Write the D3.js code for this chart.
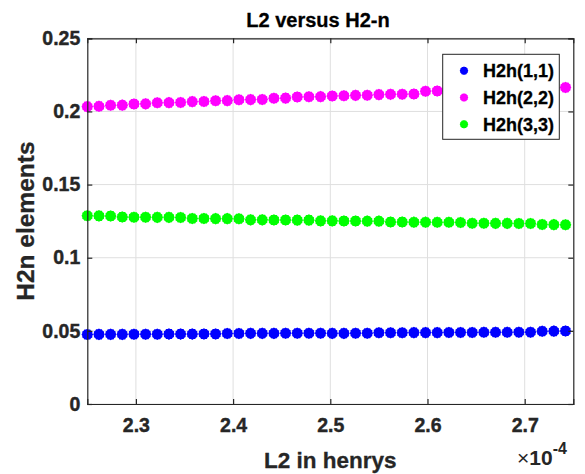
<!DOCTYPE html>
<html>
<head>
<meta charset="utf-8">
<script src="https://cdn.jsdelivr.net/npm/d3@7"></script>
<style>
  body { margin: 0; background: #fff; }
  svg { display: block; font-family: "Liberation Sans", Arial, Helvetica, sans-serif; }
</style>
</head>
<body>
<div class="plotDiv"></div>
<script>
'use strict';

// L2 values (x 1e-4 henrys)
var l2Values = [2.250, 2.262, 2.274, 2.286, 2.298, 2.310, 2.322, 2.334, 2.346, 2.358,
  2.370, 2.382, 2.394, 2.406, 2.418, 2.430, 2.442, 2.454, 2.466, 2.478,
  2.490, 2.502, 2.514, 2.526, 2.538, 2.550, 2.562, 2.574, 2.586, 2.598,
  2.610, 2.622, 2.634, 2.646, 2.658, 2.670, 2.682, 2.694, 2.706, 2.718,
  2.730, 2.742];

var h11 = [0.0475, 0.0476, 0.0476, 0.0476, 0.0477, 0.0477, 0.0477, 0.0478, 0.0478, 0.0478,
  0.0479, 0.0479, 0.0482, 0.0482, 0.0483, 0.0483, 0.0483, 0.0484, 0.0484, 0.0484,
  0.0484, 0.0483, 0.0483, 0.0484, 0.0484, 0.0487, 0.0487, 0.0487, 0.0488, 0.0488,
  0.0488, 0.0489, 0.0489, 0.0489, 0.0490, 0.0490, 0.0490, 0.0491, 0.0491, 0.0497,
  0.0498, 0.0499];

var h22 = [0.2033, 0.2035, 0.2042, 0.2043, 0.2051, 0.2052, 0.2059, 0.2060, 0.2061, 0.2067,
  0.2068, 0.2073, 0.2074, 0.2080, 0.2081, 0.2082, 0.2090, 0.2091, 0.2099, 0.2100,
  0.2101, 0.2106, 0.2107, 0.2110, 0.2111, 0.2115, 0.2117, 0.2118, 0.2119, 0.2138,
  0.2140, 0.2142, 0.2144, 0.2146, 0.2148, 0.2150, 0.2152, 0.2155, 0.2157, 0.2159,
  0.2161, 0.2164];

var h33 = [0.1287, 0.1286, 0.1285, 0.1278, 0.1277, 0.1277, 0.1276, 0.1276, 0.1275, 0.1268,
  0.1268, 0.1267, 0.1267, 0.1266, 0.1259, 0.1259, 0.1258, 0.1258, 0.1257, 0.1257,
  0.1252, 0.1252, 0.1251, 0.1251, 0.1250, 0.1250, 0.1244, 0.1244, 0.1243, 0.1243,
  0.1242, 0.1242, 0.1241, 0.1236, 0.1236, 0.1235, 0.1235, 0.1234, 0.1234, 0.1227,
  0.1226, 0.1225];

var seriesNames = ['H2h(1,1)', 'H2h(2,2)', 'H2h(3,3)'];
var seriesColors = ['#0000ff', '#ff00ff', '#00ff00'];
var xTicks = [2.3, 2.4, 2.5, 2.6, 2.7];
var yTicks = [0, 0.05, 0.1, 0.15, 0.2, 0.25];

var width = 585, height = 474;
var plot = {left: 87.3, right: 573.3, top: 38.3, bottom: 404};
var axisColor = '#262626';

var mySvg = d3.select('.plotDiv').append('svg')
  .attr('width', width)
  .attr('height', height);

var xScale = d3.scaleLinear().domain([2.25, 2.75]).range([plot.left, plot.right]);
var yScale = d3.scaleLinear().domain([0, 0.25]).range([plot.bottom, plot.top]);

// grid
mySvg.append('g')
  .selectAll('line.gx')
  .data(xTicks)
  .join('line')
  .attr('x1', d => xScale(d)).attr('x2', d => xScale(d))
  .attr('y1', plot.top).attr('y2', plot.bottom)
  .attr('stroke', '#dfdfdf').attr('stroke-width', 1);

mySvg.append('g')
  .selectAll('line.gy')
  .data(yTicks)
  .join('line')
  .attr('x1', plot.left).attr('x2', plot.right)
  .attr('y1', d => yScale(d)).attr('y2', d => yScale(d))
  .attr('stroke', '#dfdfdf').attr('stroke-width', 1);

// points - bumpy filled marker like the matlab render
var marker = d3.symbol().type({
  draw: function(ctx, size) {
    var r = Math.sqrt(size / Math.PI);
    var n = 12;
    for (var k = 0; k < n * 2; k++) {
      var a = Math.PI * k / n;
      var rr = k % 2 ? r * 0.9 : r;
      if (k === 0) ctx.moveTo(rr * Math.cos(a), rr * Math.sin(a));
      else ctx.lineTo(rr * Math.cos(a), rr * Math.sin(a));
    }
    ctx.closePath();
  }
});

var groupedData = [h11, h22, h33].map((vals, i) => ({
  name: seriesNames[i],
  color: seriesColors[i],
  values: vals.map((v, j) => ({x: l2Values[j], y: v}))
}));

mySvg.append('g')
  .selectAll('g')
  .data(groupedData)
  .join('g')
  .attr('fill', d => d.color)
  .selectAll('path')
  .data(d => d.values)
  .join('path')
  .attr('transform', d => `translate(${xScale(d.x)},${yScale(d.y)})`)
  .attr('d', marker.size(Math.PI * 5.8 * 5.8));

// axes (box with inward ticks)
var tickLen = 5;
var xAxisB = d3.axisBottom(xScale).tickValues(xTicks).tickSize(-tickLen).tickPadding(10).tickFormat(d3.format('.1f'));
var xAxisT = d3.axisTop(xScale).tickValues(xTicks).tickSize(-tickLen).tickFormat('');
var yAxisL = d3.axisLeft(yScale).tickValues(yTicks).tickSize(-tickLen).tickPadding(7).tickFormat(d => d3.format('~g')(d));
var yAxisR = d3.axisRight(yScale).tickValues(yTicks).tickSize(-tickLen).tickFormat('');

function styleAxis(g) {
  g.selectAll('path').attr('stroke', axisColor).attr('stroke-width', 1.2);
  g.selectAll('line').attr('stroke', axisColor).attr('stroke-width', 1.2);
  g.selectAll('text')
    .attr('fill', axisColor)
    .attr('stroke', axisColor)
    .attr('stroke-width', 0.4)
    .attr('font-size', 19.5)
    .attr('font-weight', 'bold')
    .attr('font-family', '"Liberation Sans", Arial, sans-serif');
}

mySvg.append('g').attr('transform', `translate(0,${plot.bottom})`).call(xAxisB).call(styleAxis)
  .selectAll('text').attr('dy', '0.9em');
mySvg.append('g').attr('transform', `translate(0,${plot.top})`).call(xAxisT).call(styleAxis);
mySvg.append('g').attr('transform', `translate(${plot.left},0)`).call(yAxisL).call(styleAxis);
mySvg.append('g').attr('transform', `translate(${plot.right},0)`).call(yAxisR).call(styleAxis);

// exponent label
var expLabel = mySvg.append('text')
  .attr('x', 517)
  .attr('y', 465)
  .attr('fill', axisColor)
  .attr('font-size', 21)
  .attr('font-weight', 'bold');
expLabel.append('tspan').attr('font-weight', 'normal').text('\u00d7');
expLabel.append('tspan').text('10');
expLabel.append('tspan').attr('dy', -11).attr('font-size', 16).text('-4');

// title and labels
mySvg.append('text')
  .attr('x', 318)
  .attr('y', 27)
  .attr('text-anchor', 'middle')
  .attr('fill', '#000')
  .attr('stroke', '#000')
  .attr('stroke-width', 0.3)
  .attr('font-size', 20)
  .attr('font-weight', 'bold')
  .text('L2 versus H2-n');

mySvg.append('text')
  .attr('x', (plot.left + plot.right) / 2)
  .attr('y', 468)
  .attr('text-anchor', 'middle')
  .attr('fill', axisColor)
  .attr('stroke', axisColor)
  .attr('stroke-width', 0.3)
  .attr('font-size', 22.5)
  .attr('font-weight', 'bold')
  .text('L2 in henrys');

mySvg.append('text')
  .attr('transform', `translate(34,${(plot.top + plot.bottom) / 2}) rotate(-90)`)
  .attr('text-anchor', 'middle')
  .attr('fill', axisColor)
  .attr('stroke', axisColor)
  .attr('stroke-width', 0.3)
  .attr('font-size', 24.5)
  .attr('font-weight', 'bold')
  .text('H2n elements');

// legend
var legend = mySvg.append('g');
legend.append('rect')
  .attr('x', 442.7).attr('y', 54.3)
  .attr('width', 116.6).attr('height', 85)
  .attr('fill', '#fff')
  .attr('stroke', axisColor)
  .attr('stroke-width', 1);

var legendRows = legend.selectAll('g.row')
  .data(groupedData)
  .join('g')
  .attr('transform', (d, i) => `translate(464,${70.7 + i * 26.8})`);

legendRows.append('path')
  .attr('d', marker.size(Math.PI * 4.3 * 4.3))
  .attr('fill', d => d.color);

legendRows.append('text')
  .attr('x', 19)
  .attr('dy', '0.36em')
  .attr('fill', '#000')
  .attr('stroke', '#000')
  .attr('stroke-width', 0.3)
  .attr('font-size', 18)
  .attr('font-weight', 'bold')
  .text(d => d.name);
</script>
</body>
</html>
